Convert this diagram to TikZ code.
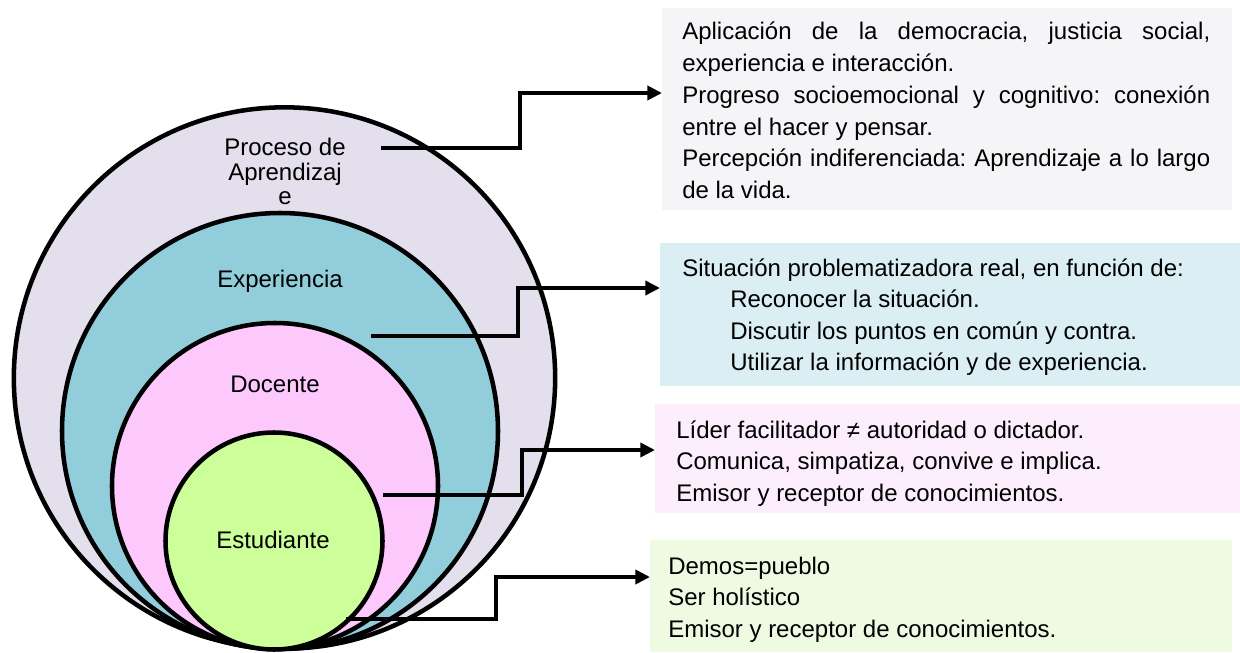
\documentclass[tikz,border=0pt]{standalone}
\usepackage{fontspec}
\setmainfont{Liberation Sans}
\usetikzlibrary{arrows.meta}
\frenchspacing
\definecolor{lav}{HTML}{E4DFEC}
\definecolor{expc}{HTML}{92CDDC}
\definecolor{docc}{HTML}{FDC9FD}
\definecolor{estc}{HTML}{CCFF99}
\definecolor{bxa}{HTML}{F5F5F8}
\definecolor{bxb}{HTML}{DAEEF3}
\definecolor{bxc}{HTML}{FDEEFD}
\definecolor{bxd}{HTML}{EEFAE1}
\begin{document}
\begin{tikzpicture}[x=0.75pt,y=-0.75pt,
  ring/.style={circle,draw=black,line width=3.4pt,inner sep=0pt},
  lbl/.style={anchor=base,inner sep=0pt,font=\fontsize{18}{22}\selectfont},
  txt/.style={anchor=base west,inner sep=0pt,font=\fontsize{18}{22}\selectfont\frenchspacing},
  panel/.style={anchor=north west,inner sep=0pt,draw=none},
  conn/.style={line width=3pt,-{Triangle[length=11pt,width=10.5pt]}},
  shade/.style={line width=3pt,draw=black!45,opacity=0.35}
]
\useasboundingbox (0,0) rectangle (1240,653);
% panels
\node[panel,fill=bxa,minimum width=427.5pt,minimum height=151.5pt] (box1) at (662,8) {};
\node[panel,fill=bxb,minimum width=435pt,minimum height=107.25pt] (box2) at (660,243) {};
\node[panel,fill=bxc,minimum width=438.75pt,minimum height=81.75pt] (box3) at (655,404) {};
\node[panel,fill=bxd,minimum width=436.5pt,minimum height=84pt] (box4) at (650,540) {};
% circles
\node[ring,fill=lav,minimum size=406pt] (c1) at (284.5,378) {};
\node[ring,fill=expc,minimum size=327pt] (c2) at (280,431) {};
\node[ring,fill=docc,minimum size=244.5pt] (c3) at (275,486) {};
\node[ring,fill=estc,minimum size=162.75pt] (c4) at (274,541) {};
% circle labels
\node[lbl] (l1a) at (285,155) {Proceso de};
\node[lbl] (l1b) at (285,180) {Aprendizaj};
\node[lbl] (l1c) at (285,204) {e};
\node[lbl] (l2) at (280,287) {Experiencia};
\node[lbl] (l3) at (275,392) {Docente};
\node[lbl] (l4) at (273,548) {Estudiante};
% connectors
\coordinate (s1) at (381,148); \coordinate (k1) at (520,93);
\coordinate (s2) at (371,336); \coordinate (k2) at (518,288);
\coordinate (s3) at (383,495); \coordinate (k3) at (522,450);
\coordinate (s4) at (346,619); \coordinate (k4) at (496,577);
\begin{scope}[shift={(1.5,2.5)}]
\draw[shade] (s1) -| (k1) -- ([xshift=-8pt]k1 -| box1.west);
\draw[shade] (s2) -| (k2) -- ([xshift=-8pt]k2 -| box2.west);
\draw[shade] (s3) -| (k3) -- ([xshift=-8pt]k3 -| box3.west);
\draw[shade] (s4) -| (k4) -- ([xshift=-8pt]k4 -| box4.west);
\end{scope}
\draw[conn] (s1) -| (k1) -- (k1 -| box1.west);
\draw[conn] (s2) -| (k2) -- (k2 -| box2.west);
\draw[conn] (s3) -| (k3) -- (k3 -| box3.west);
\draw[conn] (s4) -| (k4) -- (k4 -| box4.west);
% box 1 text
\node[txt] (a1) at (682,40) {\makebox[396pt][s]{Aplicación de la democracia, justicia social,}};
\node[txt] (a2) at (682,71.7) {experiencia e interacción.};
\node[txt] (a3) at (682,103.4) {\makebox[396pt][s]{Progreso socioemocional y cognitivo: conexión}};
\node[txt] (a4) at (682,135) {entre el hacer y pensar.};
\node[txt] (a5) at (682,166.8) {\makebox[396pt][s]{Percepción indiferenciada: Aprendizaje a lo largo}};
\node[txt] (a6) at (682,198.5) {de la vida.};
% box 2 text
\node[txt] (b1) at (682,276) {Situación problematizadora real, en función de:};
\node[txt] (b2) at (730,307.5) {Reconocer la situación.};
\node[txt] (b3) at (730,339) {Discutir los puntos en común y contra.};
\node[txt] (b4) at (730,370.5) {Utilizar la información y de experiencia.};
% box 3 text
\node[txt] (p1) at (676,438) {Líder facilitador ≠ autoridad o dictador.};
\node[txt] (p2) at (676,469.5) {Comunica, simpatiza, convive e implica.};
\node[txt] (p3) at (676,501) {Emisor y receptor de conocimientos.};
% box 4 text
\node[txt] (g1) at (668,574) {Demos=pueblo};
\node[txt] (g2) at (668,605.5) {Ser holístico};
\node[txt] (g3) at (668,637) {Emisor y receptor de conocimientos.};
\end{tikzpicture}
\end{document}
